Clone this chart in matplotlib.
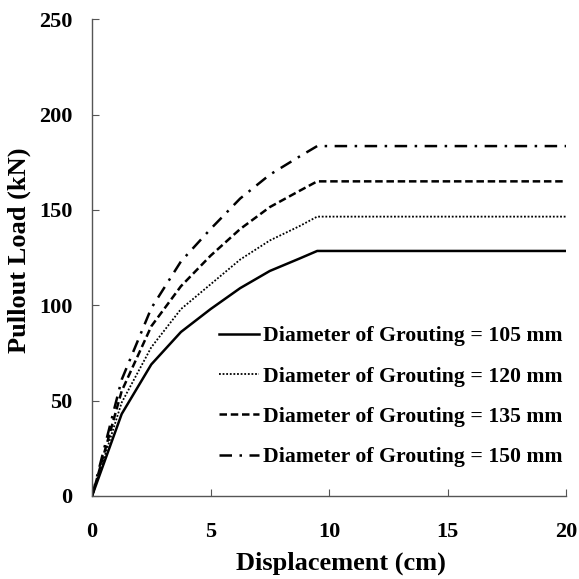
import numpy as np
import matplotlib.pyplot as plt

plt.rcParams['font.family'] = ['Liberation Serif', 'DejaVu Serif']
plt.rcParams['font.weight'] = 'bold'

# Displacement (cm)
disp = [0, 1.25, 2.5, 3.75, 5, 6.25, 7.5, 8.75, 9.5, 20]

# Pullout load (kN) for each grouting diameter
load_105 = [0, 43, 69, 86, 98, 109, 118, 124.5, 128.5, 128.5]
load_120 = [0, 49, 78, 98, 111, 124, 134, 141.5, 146.5, 146.5]
load_135 = [0, 55, 89, 110, 126, 140, 151.5, 160, 165, 165]
load_150 = [0, 61, 98.5, 123, 140, 156, 168.5, 178, 183.5, 183.5]

labels = ['Diameter of Grouting = 105 mm', 'Diameter of Grouting = 120 mm',
          'Diameter of Grouting = 135 mm', 'Diameter of Grouting = 150 mm']

fig = plt.figure(figsize=(5.79, 5.79), dpi=100)
ax = fig.add_axes([0.159, 0.1434, 0.8186, 0.8233])

ax.plot(disp, load_105, color='black', lw=1.8, ls='-', label=labels[0])
ax.plot(disp, load_120, color='black', lw=1.3, ls=(0, (1, 1)), label=labels[1])
ax.plot(disp, load_135, color='black', lw=1.8, ls=(0, (3, 1.5)), label=labels[2])
ax.plot(disp, load_150, color='black', lw=1.8, ls=(0, (5, 3, 1, 3)), label=labels[3])

ax.set_xlim(0, 20)
ax.set_ylim(0, 250)
ax.set_xticks([0, 5, 10, 15, 20])
ax.set_yticks([0, 50, 100, 150, 200, 250])

ax.spines['top'].set_visible(False)
ax.spines['right'].set_visible(False)
for s in ['left', 'bottom']:
    ax.spines[s].set_color('#555555')
    ax.spines[s].set_linewidth(1.0)
ax.tick_params(direction='in', length=5, color='#555555', labelsize=16)
ax.tick_params(axis='x', pad=19)
ax.tick_params(axis='y', pad=14)

ax.set_xlabel('Displacement (cm)', fontsize=19, fontweight='bold')
ax.set_ylabel('Pullout Load (kN)', fontsize=19, fontweight='bold')
ax.xaxis.set_label_coords(0.525, -0.116)
ax.yaxis.set_label_coords(-0.128, 0.516)

ax.legend(loc='lower right', frameon=False, fontsize=15.7, handlelength=1.85,
          handletextpad=0.2, labelspacing=0.92, borderaxespad=0,
          bbox_to_anchor=(1.012, 0.042))

fig.savefig('out.png', dpi=100)
